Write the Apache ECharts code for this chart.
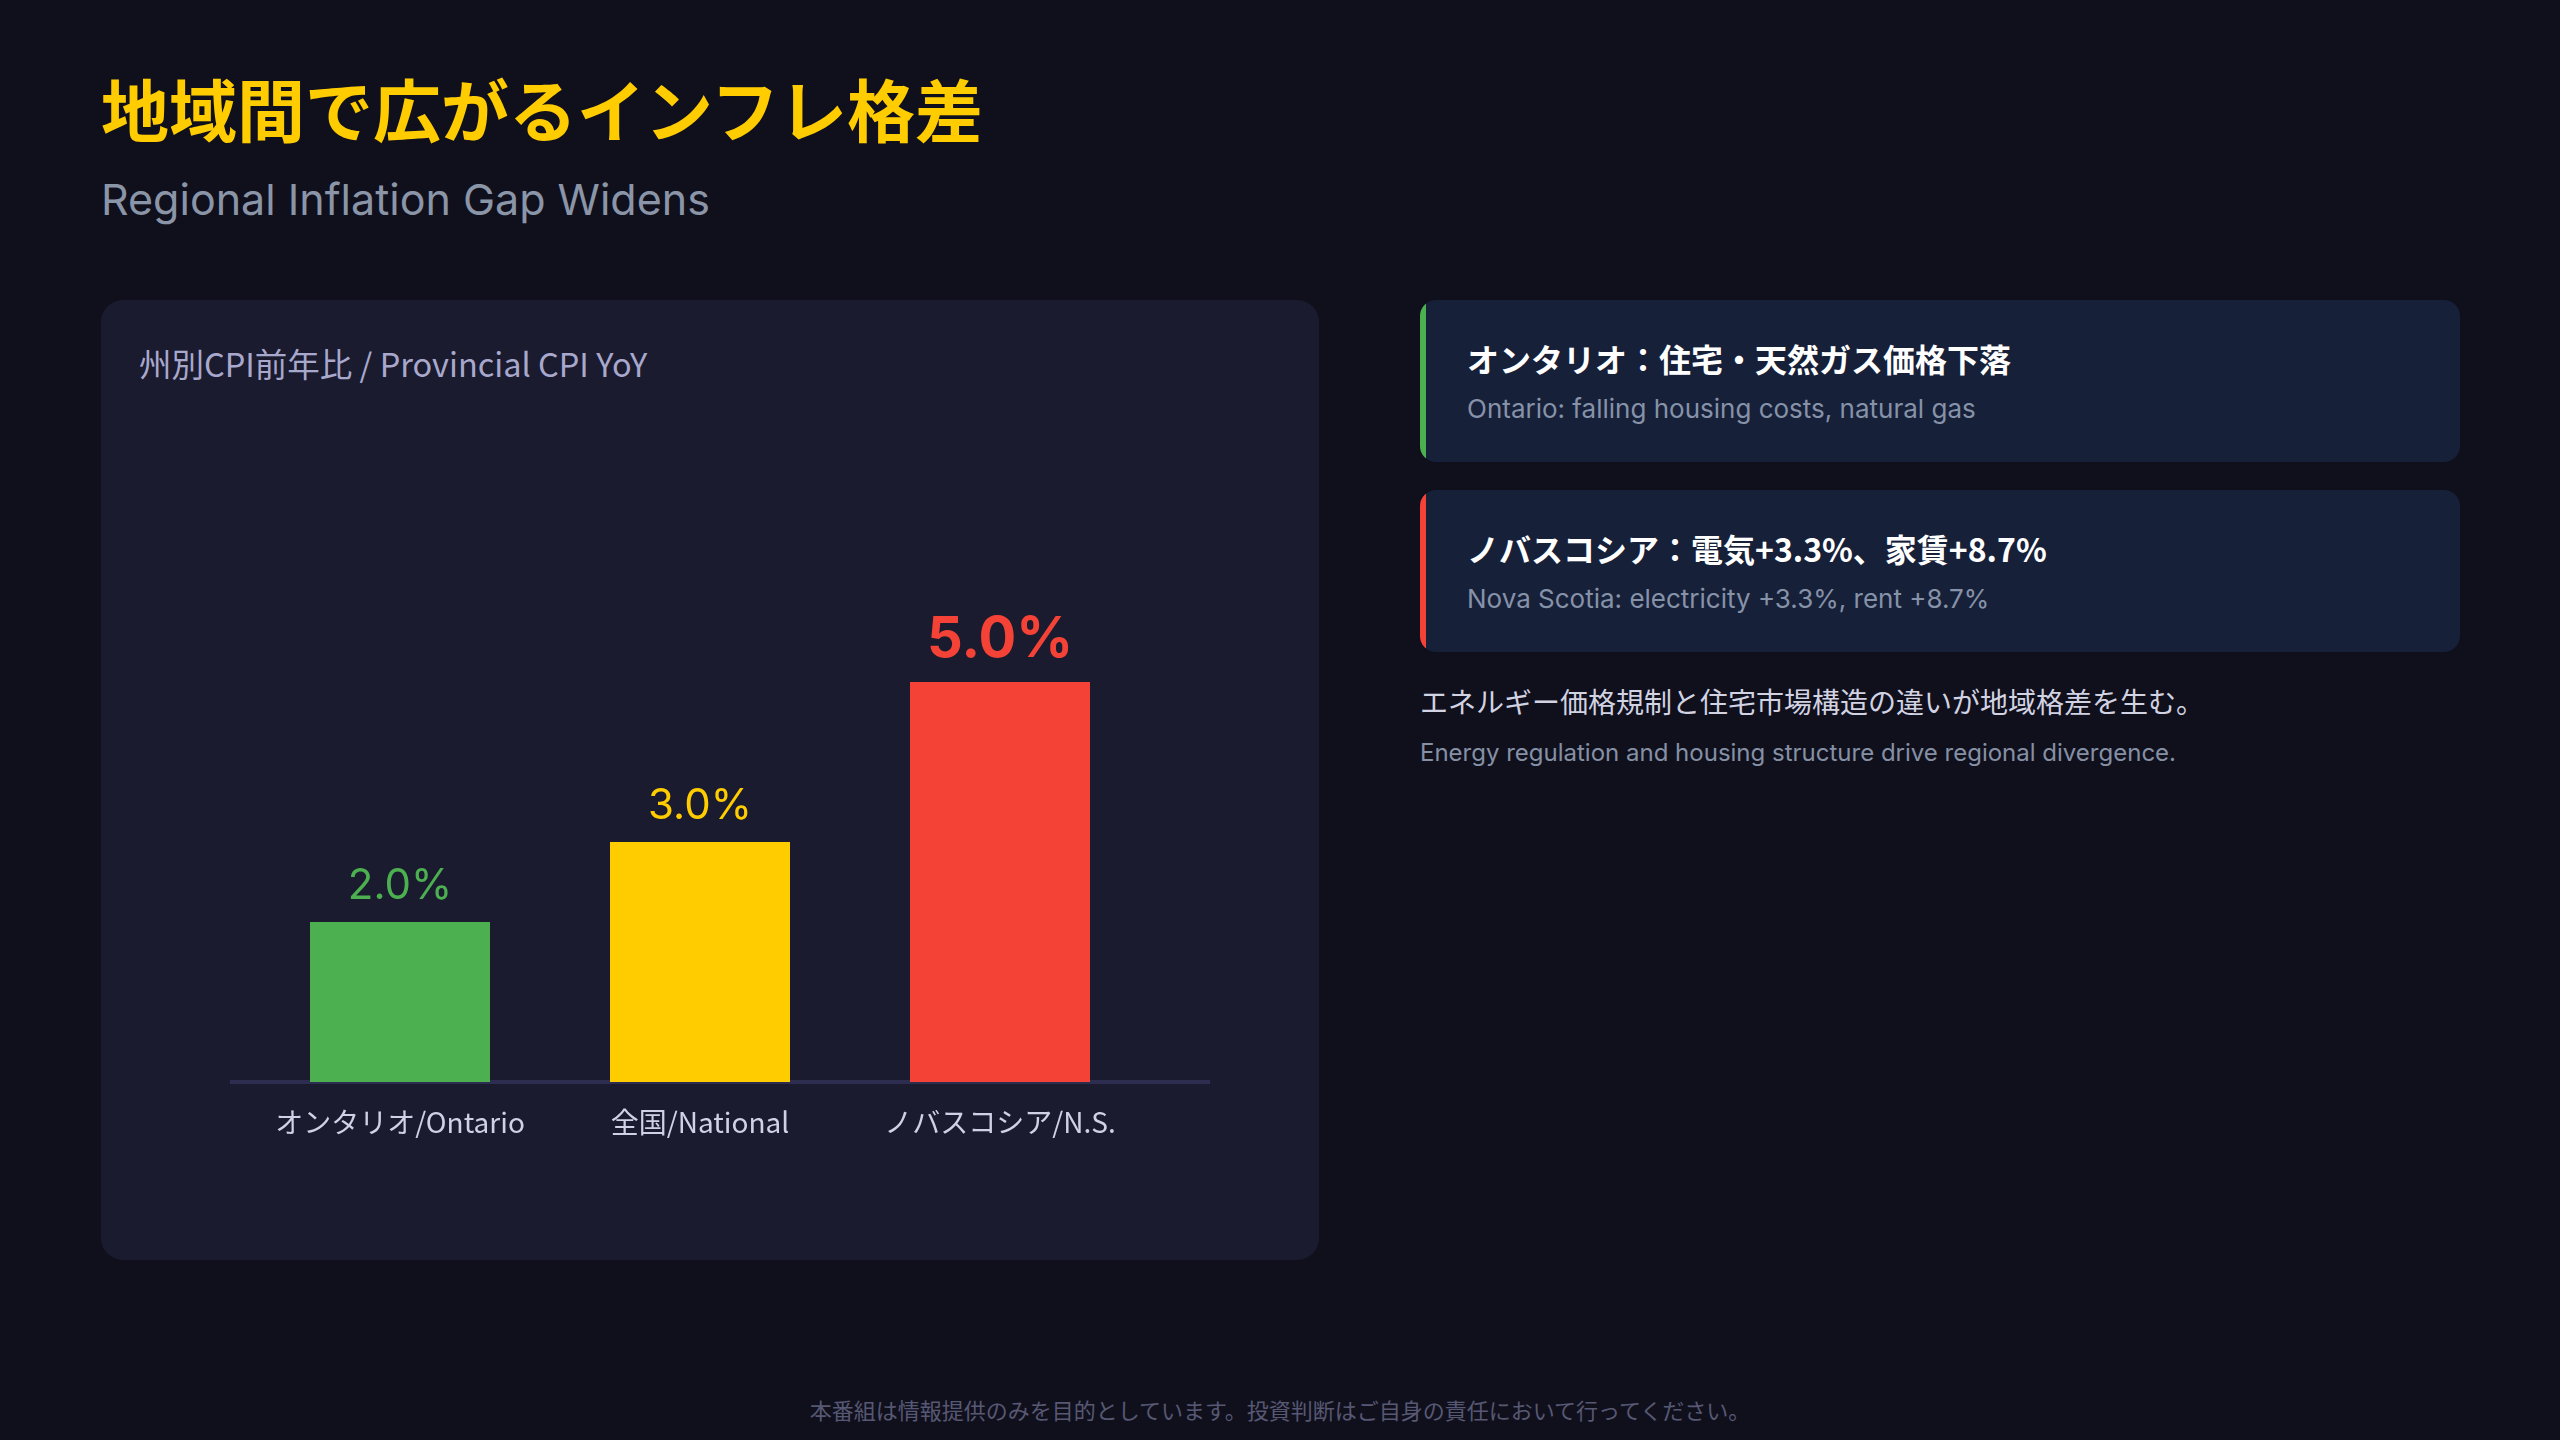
<!DOCTYPE html>
<html>
<head>
<meta charset="utf-8">
<script src="https://cdn.jsdelivr.net/npm/echarts@6/dist/echarts.min.js"></script>
<style>
  html, body { margin: 0; padding: 0; width: 2560px; height: 1440px; background: #10101d; overflow: hidden; }
  .abs { position: absolute; white-space: nowrap; line-height: 1; }
  #title { left: 101px; top: 58px; font: 700 68px "Noto Sans CJK JP", sans-serif; color: #ffcc00; }
  #subtitle { left: 101px; top: 173px; font: 400 43px "Inter", "Noto Sans CJK JP", sans-serif; color: #8b95a8; }
  #panel { position: absolute; left: 101px; top: 300px; width: 1218px; height: 960px; background: #1a1b2f; border-radius: 22px; }
  #panelTitle { left: 139px; top: 339px; font: 400 32.5px "Noto Sans CJK JP", sans-serif; color: #a8a8cc; }
  #chart { position: absolute; left: 101px; top: 300px; width: 1218px; height: 960px; }
  .card { position: absolute; left: 1420px; width: 1040px; height: 162px; background: #172039; border-radius: 16px; overflow: hidden; }
  .card .bar { position: absolute; left: 0; top: 0; bottom: 0; width: 6px; }
  .card .h { position: absolute; left: 47px; top: 42px; font: 700 32px "Noto Sans CJK JP", sans-serif; color: #ffffff; white-space: nowrap; line-height: 1; }
  .card .s { position: absolute; left: 47px; top: 96px; font: 400 26px "Inter", "Noto Sans CJK JP", sans-serif; color: #8692a8; white-space: nowrap; line-height: 1; }
  #note1 { left: 1420px; top: 681px; font: 400 28px "Noto Sans CJK JP", sans-serif; color: #d2d3e2; }
  #note2 { left: 1420px; top: 738px; font: 400 24px "Inter", "Noto Sans CJK JP", sans-serif; color: #8590a5; }
  #footer { left: 0; width: 2560px; text-align: center; top: 1393px; font: 400 22px "Noto Sans CJK JP", sans-serif; color: #575873; }
</style>
</head>
<body>
<div id="title" class="abs">地域間で広がるインフレ格差</div>
<div id="subtitle" class="abs">Regional Inflation Gap Widens</div>
<div id="panel"></div>
<div id="panelTitle" class="abs">州別CPI前年比 / Provincial CPI YoY</div>
<div id="chart"></div>

<div class="card" style="top:300px;"><div class="bar" style="background:#4caf50"></div>
  <div class="h">オンタリオ：住宅・天然ガス価格下落</div>
  <div class="s">Ontario: falling housing costs, natural gas</div>
</div>
<div class="card" style="top:490px;"><div class="bar" style="background:#f44336"></div>
  <div class="h">ノバスコシア：電気+3.3%、家賃+8.7%</div>
  <div class="s">Nova Scotia: electricity +3.3%, rent +8.7%</div>
</div>
<div id="note1" class="abs">エネルギー価格規制と住宅市場構造の違いが地域格差を生む。</div>
<div id="note2" class="abs">Energy regulation and housing structure drive regional divergence.</div>
<div id="footer" class="abs">本番組は情報提供のみを目的としています。投資判断はご自身の責任において行ってください。</div>

<script>
const categories = ['オンタリオ/Ontario', '全国/National', 'ノバスコシア/N.S.'];
const values = [2.0, 3.0, 5.0];
const barColors = ['#4caf50', '#ffcc00', '#f44336'];
const highlightIndex = 2;

const chart = echarts.init(document.getElementById('chart'), null, { renderer: 'canvas' });

const seriesData = values.map((v, i) => ({
  value: v,
  itemStyle: { color: barColors[i] },
  label: {
    color: barColors[i],
    fontSize: i === highlightIndex ? 56 : 42,
    fontWeight: i === highlightIndex ? 'bold' : 'normal',
    distance: i === highlightIndex ? 14 : 15
  }
}));

chart.setOption({
  backgroundColor: 'transparent',
  animation: false,
  grid: { left: 149, top: 302, width: 900, height: 480 },
  xAxis: {
    type: 'category',
    data: categories,
    axisLine: { show: false },
    axisTick: { show: false },
    axisLabel: { interval: 0, color: '#d0d0e6', fontSize: 28, margin: 26, fontFamily: 'Noto Sans CJK JP' }
  },
  yAxis: { type: 'value', min: 0, max: 6, show: false, splitLine: { show: false } },
  graphic: [{
    type: 'line',
    z: 0,
    shape: { x1: 129, y1: 782, x2: 1109, y2: 782 },
    style: { stroke: '#2d2d50', lineWidth: 4 }
  }],
  series: [{
    type: 'bar',
    z: 2,
    barWidth: 180,
    data: seriesData,
    label: {
      show: true,
      position: 'top',
      fontFamily: 'Inter',
      formatter: p => p.value.toFixed(1) + '%'
    }
  }]
});
</script>
</body>
</html>
